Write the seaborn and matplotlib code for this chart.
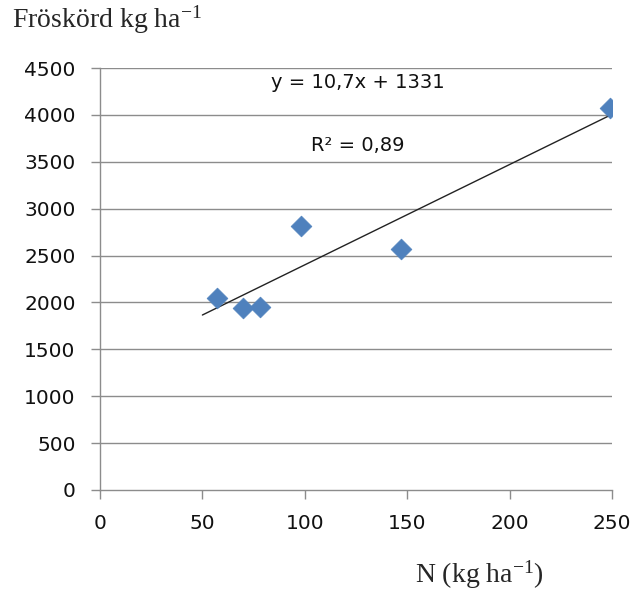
import matplotlib
matplotlib.use("Agg")
import matplotlib.pyplot as plt
import seaborn as sns
import pandas as pd

# Data
n_kg_ha = [57, 70, 78, 98, 147, 249]
seed_yield = [2045, 1940, 1950, 2815, 2570, 4070]
trend_slope = 10.7
trend_intercept = 1331
trend_x = [50, 250]
x_ticks = [0, 50, 100, 150, 200, 250]
y_ticks = [0, 500, 1000, 1500, 2000, 2500, 3000, 3500, 4000, 4500]

sns.set_theme(style="white")
plt.rcParams['font.family'] = ['DejaVu Sans']
plt.rcParams['mathtext.fontset'] = 'custom'
plt.rcParams['mathtext.rm'] = 'Liberation Serif'
plt.rcParams['mathtext.it'] = 'Liberation Serif:italic'
plt.rcParams['mathtext.bf'] = 'Liberation Serif:bold'

df = pd.DataFrame({"N": n_kg_ha, "yield": seed_yield})
trend_df = pd.DataFrame({"x": trend_x,
                         "y": [trend_slope * v + trend_intercept for v in trend_x]})

fig = plt.figure(figsize=(6.34, 5.92), dpi=100)
ax = fig.add_axes([0.1577, 0.1723, 0.8076, 0.7128])

for yv in y_ticks[1:]:
    ax.axhline(yv, color="#8c8c8c", lw=1.0, zorder=0)

sns.lineplot(data=trend_df, x="x", y="y", ax=ax, color="#222222", lw=1.0, zorder=2)
sns.scatterplot(data=df, x="N", y="yield", ax=ax, marker="D", s=112,
                color="#4F81BD", edgecolor="#4F81BD", linewidth=0.5, zorder=3)

ax.set_xlim(0, 250)
ax.set_ylim(0, 4500)
ax.set_xticks(x_ticks)
ax.set_yticks(y_ticks)
ax.tick_params(axis="both", labelsize=14.5, color="#8c8c8c", length=6.5, width=1,
               direction="out", bottom=True, left=True, pad=11, labelcolor="#111111")
for s in ["top", "right"]:
    ax.spines[s].set_visible(False)
for s in ["bottom", "left"]:
    ax.spines[s].set_color("#8c8c8c")
    ax.spines[s].set_linewidth(1)
ax.set_xlabel("")
ax.set_ylabel("")

fig.text(0.5646, 0.860, "y = 10,7x + 1331", ha="center", va="center",
         fontsize=14, color="#111111")
fig.text(0.5646, 0.755, "R² = 0,89", ha="center", va="center",
         fontsize=14, color="#111111")

fig.text(0.019, 0.9527, "Fröskörd kg ha$^{-1}$", family="Liberation Serif",
         fontsize=20, ha="left", va="baseline")
fig.text(0.6546, 0.0152, "N (kg ha$^{-1}$)", family="Liberation Serif",
         fontsize=20, ha="left", va="baseline")

fig.savefig("out.png", dpi=100, facecolor="white")
